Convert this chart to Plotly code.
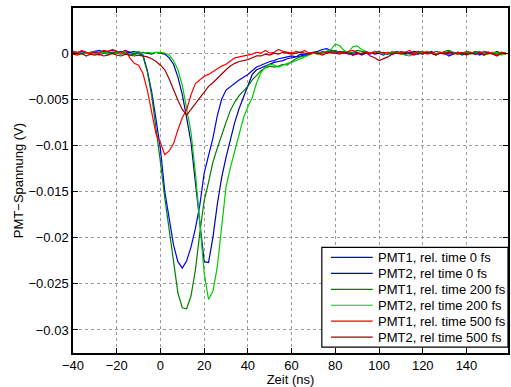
import plotly.graph_objects as go

TIME_NS = list(range(-40, 160, 2))

PMT1_0FS = [
    0.0002, 0.0001, 0.0002, 0.0000, 0.0001, 0.0002, 0.0003, 0.0001, 0.0002, 0.0003,
    0.0002, 0.0001, 0.0003, 0.0001, 0.0002, 0.0000, -0.0002, -0.0019, -0.0042, -0.0072,
    -0.0104, -0.0150, -0.0180, -0.0208, -0.0226, -0.0233, -0.0225, -0.0210, -0.0190, -0.0165,
    -0.0130, -0.0110, -0.0092, -0.0068, -0.0050, -0.0040, -0.0036, -0.0032, -0.0029, -0.0026,
    -0.0023, -0.0019, -0.0015, -0.0013, -0.0011, -0.0009, -0.0008, -0.0006, -0.0005, -0.0004,
    -0.0003, -0.0004, -0.0001, -0.0002, 0.0000, 0.0001, 0.0002, 0.0004, 0.0005, 0.0003,
    0.0002, 0.0001, 0.0000, 0.0001, -0.0002, 0.0000, -0.0001, 0.0001, -0.0001, 0.0002,
    0.0000, -0.0002, 0.0000, -0.0001, 0.0001, 0.0000, -0.0001, 0.0000, 0.0002, 0.0001,
    -0.0001, 0.0002, 0.0000, -0.0002, 0.0001, 0.0000, -0.0003, -0.0001, 0.0001, -0.0002,
    0.0000, 0.0001, -0.0001, 0.0000, -0.0002, 0.0001, 0.0000, 0.0002, -0.0001, 0.0001,
]

PMT2_0FS = [
    0.0001, 0.0000, 0.0002, 0.0001, -0.0001, 0.0001, 0.0000, 0.0002, 0.0001, 0.0000,
    0.0001, 0.0002, 0.0000, 0.0001, -0.0001, 0.0000, 0.0001, 0.0000, -0.0001, 0.0001,
    0.0000, -0.0001, -0.0005, -0.0012, -0.0026, -0.0045, -0.0070, -0.0097, -0.0140, -0.0185,
    -0.0226, -0.0227, -0.0200, -0.0164, -0.0135, -0.0113, -0.0094, -0.0075, -0.0060, -0.0047,
    -0.0034, -0.0023, -0.0018, -0.0016, -0.0014, -0.0012, -0.0010, -0.0009, -0.0008, -0.0006,
    -0.0005, -0.0004, -0.0003, -0.0002, -0.0001, 0.0000, 0.0001, 0.0000, 0.0002, 0.0001,
    0.0000, 0.0002, 0.0001, -0.0001, 0.0000, 0.0001, -0.0002, 0.0000, 0.0001, -0.0001,
    0.0000, 0.0001, -0.0001, 0.0000, 0.0002, 0.0000, -0.0001, 0.0001, 0.0000, -0.0001,
    0.0001, 0.0000, 0.0002, -0.0001, 0.0000, 0.0001, -0.0001, 0.0000, 0.0001, 0.0000,
    -0.0001, 0.0000, 0.0001, -0.0002, 0.0000, 0.0001, 0.0000, -0.0001, 0.0001, 0.0000,
]

PMT1_200FS = [
    -0.0001, 0.0000, -0.0001, 0.0001, -0.0001, 0.0000, -0.0002, 0.0000, -0.0001, 0.0001,
    0.0000, -0.0001, 0.0000, -0.0002, -0.0001, 0.0000, -0.0003, -0.0020, -0.0046, -0.0080,
    -0.0118, -0.0157, -0.0192, -0.0230, -0.0260, -0.0276, -0.0277, -0.0263, -0.0235, -0.0195,
    -0.0160, -0.0140, -0.0118, -0.0103, -0.0088, -0.0075, -0.0062, -0.0053, -0.0046, -0.0041,
    -0.0036, -0.0029, -0.0024, -0.0019, -0.0016, -0.0014, -0.0015, -0.0014, -0.0012, -0.0013,
    -0.0009, -0.0006, -0.0004, -0.0003, -0.0001, 0.0000, -0.0001, 0.0001, 0.0000, 0.0002,
    0.0003, 0.0001, 0.0002, 0.0000, 0.0001, 0.0003, 0.0002, 0.0001, 0.0000, 0.0002,
    0.0001, 0.0000, -0.0001, 0.0001, 0.0000, 0.0002, 0.0001, -0.0001, 0.0000, 0.0001,
    0.0002, 0.0000, 0.0001, -0.0001, 0.0000, 0.0002, 0.0003, 0.0001, 0.0000, -0.0001,
    0.0001, 0.0000, 0.0002, 0.0001, -0.0001, 0.0000, 0.0001, 0.0000, 0.0001, -0.0001,
]

PMT2_200FS = [
    0.0000, 0.0001, -0.0001, 0.0000, 0.0001, -0.0001, 0.0000, 0.0001, 0.0000, -0.0001,
    0.0000, 0.0001, 0.0000, -0.0001, 0.0001, 0.0002, 0.0000, 0.0001, 0.0000, 0.0001,
    0.0001, 0.0000, -0.0002, -0.0008, -0.0018, -0.0035, -0.0060, -0.0086, -0.0130, -0.0180,
    -0.0238, -0.0267, -0.0258, -0.0232, -0.0185, -0.0145, -0.0124, -0.0106, -0.0088, -0.0070,
    -0.0058, -0.0048, -0.0032, -0.0021, -0.0015, -0.0012, -0.0013, -0.0015, -0.0013, -0.0011,
    -0.0010, -0.0008, -0.0006, -0.0004, -0.0002, 0.0000, 0.0001, 0.0000, 0.0002, 0.0004,
    0.0010, 0.0008, 0.0003, 0.0001, 0.0007, 0.0008, 0.0004, 0.0002, 0.0000, 0.0002,
    0.0001, -0.0001, 0.0000, 0.0002, 0.0001, 0.0000, -0.0002, -0.0003, -0.0001, 0.0000,
    0.0001, 0.0002, 0.0000, -0.0001, 0.0001, 0.0000, 0.0002, 0.0001, -0.0001, 0.0000,
    0.0001, -0.0001, 0.0000, 0.0002, 0.0000, -0.0001, 0.0001, 0.0000, -0.0002, 0.0001,
]

PMT1_500FS = [
    0.0002, 0.0000, 0.0003, 0.0001, 0.0000, 0.0002, 0.0001, 0.0003, 0.0002, 0.0004,
    0.0002, 0.0001, 0.0003, -0.0005, -0.0011, -0.0013, -0.0022, -0.0040, -0.0064, -0.0088,
    -0.0097, -0.0110, -0.0106, -0.0098, -0.0083, -0.0070, -0.0061, -0.0045, -0.0033, -0.0029,
    -0.0025, -0.0023, -0.0020, -0.0017, -0.0014, -0.0012, -0.0008, -0.0005, -0.0004, -0.0003,
    -0.0002, -0.0001, 0.0001, 0.0000, 0.0003, 0.0000, 0.0001, 0.0004, 0.0002, 0.0001,
    0.0000, 0.0002, 0.0001, 0.0003, 0.0000, 0.0001, -0.0001, 0.0002, 0.0001, 0.0000,
    0.0002, 0.0001, 0.0000, 0.0002, 0.0003, 0.0001, -0.0001, 0.0002, 0.0000, 0.0001,
    0.0002, 0.0000, 0.0001, -0.0001, 0.0002, 0.0000, 0.0001, 0.0003, 0.0000, 0.0002,
    0.0001, -0.0001, 0.0000, 0.0002, 0.0001, 0.0000, 0.0002, -0.0001, 0.0001, 0.0000,
    0.0002, 0.0001, -0.0001, 0.0000, 0.0002, 0.0001, 0.0000, -0.0002, 0.0001, 0.0000,
]

PMT2_500FS = [
    -0.0001, -0.0002, 0.0000, -0.0003, -0.0001, -0.0002, -0.0001, -0.0003, -0.0002, 0.0000,
    -0.0002, -0.0003, -0.0001, -0.0002, -0.0003, -0.0002, -0.0003, -0.0004, -0.0006, -0.0009,
    -0.0013, -0.0018, -0.0028, -0.0040, -0.0051, -0.0061, -0.0067, -0.0061, -0.0055, -0.0049,
    -0.0042, -0.0036, -0.0032, -0.0027, -0.0022, -0.0018, -0.0014, -0.0011, -0.0009, -0.0008,
    -0.0007, -0.0005, -0.0003, -0.0003, -0.0001, -0.0002, 0.0000, -0.0001, 0.0001, 0.0000,
    -0.0001, 0.0000, 0.0001, 0.0000, -0.0001, 0.0001, 0.0000, -0.0002, 0.0000, 0.0001,
    0.0000, -0.0001, 0.0001, 0.0000, -0.0002, -0.0001, 0.0000, 0.0001, -0.0003, -0.0005,
    -0.0008, -0.0006, -0.0004, -0.0001, 0.0000, -0.0001, 0.0001, 0.0000, -0.0002, 0.0000,
    -0.0001, 0.0001, 0.0000, -0.0002, 0.0000, -0.0001, 0.0001, 0.0000, -0.0001, 0.0000,
    -0.0002, 0.0000, -0.0001, 0.0001, -0.0002, 0.0000, -0.0001, -0.0003, 0.0000, -0.0001,
]

SERIES_NAMES = [
    "PMT1, rel. time 0 fs",
    "PMT2, rel time 0 fs",
    "PMT1, rel. time 200 fs",
    "PMT2, rel time 200 fs",
    "PMT1, rel. time 500 fs",
    "PMT2, rel time 500 fs",
]
SERIES_VALUES = [PMT1_0FS, PMT2_0FS, PMT1_200FS, PMT2_200FS, PMT1_500FS, PMT2_500FS]
SERIES_COLORS = ["#0000ff", "#0000b4", "#008000", "#00cc00", "#ff0000", "#a00000"]

X_TICKS = [-40, -20, 0, 20, 40, 60, 80, 100, 120, 140]
Y_TICKS = [0, -0.005, -0.01, -0.015, -0.02, -0.025, -0.03]
Y_TICK_TEXT = ["0", "\u22120.005", "\u22120.01", "\u22120.015", "\u22120.02", "\u22120.025", "\u22120.03"]

FONT = "Liberation Sans, Arial, sans-serif"
FS = 13

fig = go.Figure()
for name, vals, col in zip(SERIES_NAMES, SERIES_VALUES, SERIES_COLORS):
    fig.add_trace(go.Scatter(x=TIME_NS, y=vals, mode="lines", name=name,
                             showlegend=False, line=dict(color=col, width=1.2)))

# Legend box drawn in paper coordinates (styling only)
LEG_X0, LEG_X1, LEG_Y0, LEG_Y1 = 0.572, 1.0, 0.017, 0.306
ROW_TOP, ROW_STEP = 0.277, 0.0462
fig.add_shape(type="rect", xref="paper", yref="paper",
              x0=LEG_X0, x1=LEG_X1, y0=LEG_Y0, y1=LEG_Y1,
              line=dict(color="black", width=1.2), fillcolor="white", layer="above")
for i, (name, col) in enumerate(zip(SERIES_NAMES, SERIES_COLORS)):
    yy = ROW_TOP - i * ROW_STEP
    fig.add_shape(type="line", xref="paper", yref="paper",
                  x0=0.593, x1=0.689, y0=yy, y1=yy,
                  line=dict(color=col, width=1.2), layer="above")
    fig.add_annotation(xref="paper", yref="paper", x=0.697, y=yy,
                       xanchor="left", yanchor="middle", showarrow=False,
                       text=name, font=dict(family=FONT, size=FS, color="black"))

axis_common = dict(
    showline=True, linecolor="black", linewidth=1.5, mirror="ticks",
    ticks="inside", ticklen=5, tickcolor="black", tickwidth=1,
    showgrid=True, gridcolor="#9a9a9a", griddash="dot", gridwidth=1,
    zeroline=False, tickfont=dict(family=FONT, size=FS, color="black"),
)

fig.update_layout(
    width=511, height=387,
    margin=dict(l=73, r=1, t=8, b=33),
    paper_bgcolor="white", plot_bgcolor="white",
    font=dict(family=FONT, size=FS, color="black"),
    showlegend=False,
    xaxis=dict(range=[-40, 159], tickvals=X_TICKS,
               title=dict(text="Zeit (ns)", standoff=4, font=dict(size=FS)),
               **axis_common),
    yaxis=dict(range=[-0.0325, 0.0049], tickvals=Y_TICKS, ticktext=Y_TICK_TEXT,
               title=dict(text="PMT\u2212Spannung (V)", standoff=2, font=dict(size=FS)),
               **axis_common),
)

fig.write_html("out.html", config={"displayModeBar": False},
               post_script="document.body.style.margin='0';")
